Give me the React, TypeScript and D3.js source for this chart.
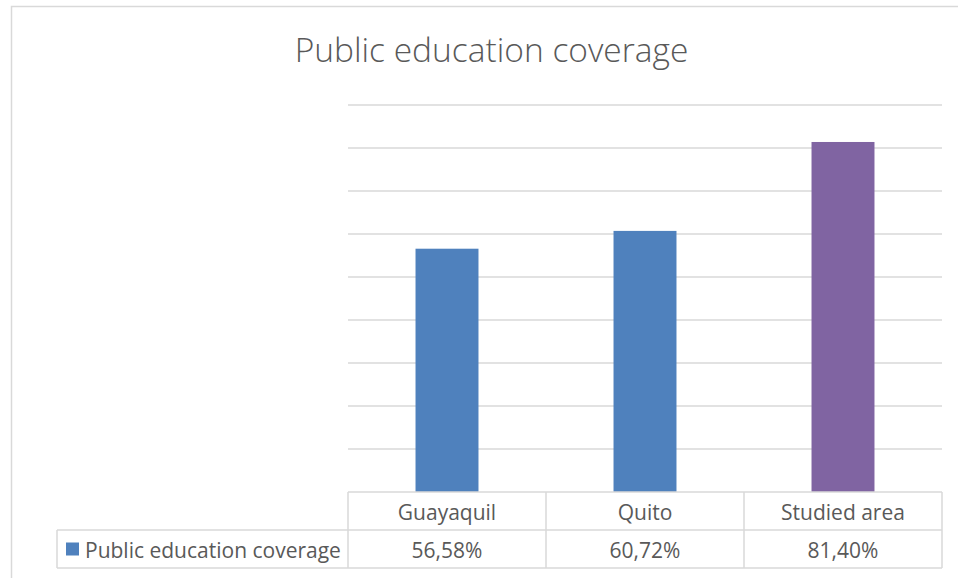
import React from "react";
import * as d3 from "d3";

const categories = ["Guayaquil", "Quito", "Studied area"];
const values = [56.58, 60.72, 81.4];
const valueLabels = ["56,58%", "60,72%", "81,40%"];
const barColors = ["#4f81bd", "#4f81bd", "#8064a2"];
const seriesName = "Public education coverage";
const title = "Public education coverage";
const yTicks = [0, 10, 20, 30, 40, 50, 60, 70, 80, 90];

const W = 958;
const H = 578;
const FONT = "'Open Sans', 'Noto Sans', sans-serif";
const TEXT = "#595959";
const GRID = "#d9d9d9";

export default function App() {
  const plotLeft = 348;
  const plotRight = 942;
  const plotTop = 105;
  const plotBottom = 492;
  const rowH = 38;
  const legendLeft = 57;

  const x = d3
    .scaleBand<string>()
    .domain(categories)
    .range([plotLeft, plotRight])
    .paddingInner(0.682)
    .paddingOuter(0.341);
  const y = d3.scaleLinear().domain([0, 90]).range([plotBottom, plotTop]);

  const step = x.step();
  const cellLefts = categories.map((c) => (x(c) as number) + x.bandwidth() / 2 - step / 2);

  const row1Top = plotBottom;
  const row2Top = plotBottom + rowH;
  const row2Bottom = plotBottom + 2 * rowH;

  return (
    <svg
      width={W}
      height={H}
      style={{ position: "absolute", left: 0, top: 0, background: "#fff" }}
    >
      <rect x={11.5} y={6.5} width={980} height={620} fill="#fff" stroke={GRID} strokeWidth={1.5} />
      <text
        x={491.5}
        y={62}
        textAnchor="middle"
        fontFamily={FONT}
        fontSize={33.5}
        fontWeight={300}
        fill={TEXT}
      >
        {title}
      </text>

      {yTicks.slice(1).map((t) => (
        <line
          key={t}
          x1={plotLeft}
          x2={plotRight}
          y1={y(t)}
          y2={y(t)}
          stroke={GRID}
          strokeWidth={1.5}
        />
      ))}

      {categories.map((c, i) => (
        <rect
          key={c}
          x={x(c)}
          y={y(values[i])}
          width={x.bandwidth()}
          height={y(0) - y(values[i])}
          fill={barColors[i]}
        />
      ))}

      {/* data table */}
      <g stroke={GRID} strokeWidth={1.5}>
        <line x1={plotLeft} x2={plotRight} y1={row1Top} y2={row1Top} />
        <line x1={legendLeft} x2={plotRight} y1={row2Top} y2={row2Top} />
        <line x1={legendLeft} x2={plotRight} y1={row2Bottom} y2={row2Bottom} />
        <line x1={legendLeft} x2={legendLeft} y1={row2Top} y2={row2Bottom} />
        {cellLefts.map((l, i) => (
          <line key={i} x1={l} x2={l} y1={row1Top} y2={row2Bottom} />
        ))}
        <line x1={plotRight} x2={plotRight} y1={row1Top} y2={row2Bottom} />
      </g>

      {categories.map((c, i) => (
        <g key={c} fontFamily={FONT} fontSize={21} fill={TEXT} textAnchor="middle">
          <text x={(x(c) as number) + x.bandwidth() / 2} y={row1Top + 28}>
            {c}
          </text>
          <text x={(x(c) as number) + x.bandwidth() / 2} y={row2Top + 28}>
            {valueLabels[i]}
          </text>
        </g>
      ))}

      <rect x={66} y={542.5} width={13} height={13} fill={barColors[0]} />
      <text x={85} y={row2Top + 28} fontFamily={FONT} fontSize={21} fill={TEXT}>
        {seriesName}
      </text>
    </svg>
  );
}
